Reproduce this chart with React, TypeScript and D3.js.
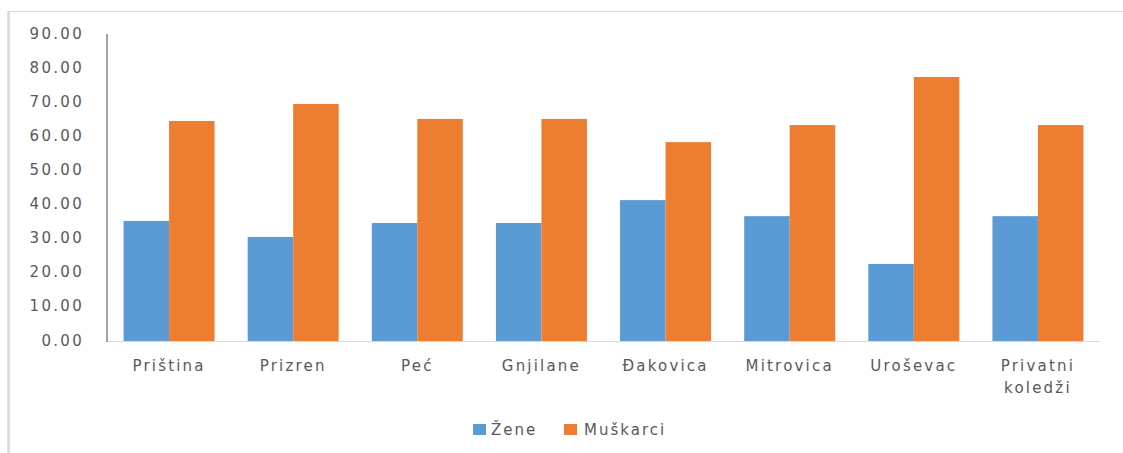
import { useEffect, useRef } from 'react'
import * as d3 from 'd3'

const categories = ['Priština', 'Prizren', 'Peć', 'Gnjilane', 'Đakovica', 'Mitrovica', 'Uroševac', 'Privatni koledži']
const seriesNames = ['Žene', 'Muškarci']
const zene = [35.2, 30.5, 34.6, 34.6, 41.3, 36.6, 22.6, 36.6]
const muskarci = [64.5, 69.5, 65.1, 65.1, 58.3, 63.3, 77.4, 63.3]
const yTicks = [0, 10, 20, 30, 40, 50, 60, 70, 80, 90]
const colors = ['#5B9BD5', '#ED7D31']

export default function App() {
  const svgRef = useRef<SVGSVGElement>(null)

  useEffect(() => {
    if (!svgRef.current) return
    const W = 1123
    const H = 453
    const svg = d3.select(svgRef.current)
    svg.selectAll('*').remove()
    svg.attr('width', W).attr('height', H)

    const font = '"DejaVu Sans", Verdana, sans-serif'
    const textColor = '#595959'

    // chart frame (only top and left edges are visible)
    svg.append('line')
      .attr('x1', 8).attr('x2', W).attr('y1', 11.5).attr('y2', 11.5)
      .attr('stroke', '#d9d9d9').attr('stroke-width', 1)
    svg.append('line')
      .attr('x1', 8.5).attr('x2', 8.5).attr('y1', 11).attr('y2', H)
      .attr('stroke', '#d9d9d9').attr('stroke-width', 2.5)

    const left = 107
    const right = 1100
    const y = d3.scaleLinear().domain([0, 90]).range([341, 34])

    const x0 = d3.scaleBand<string>()
      .domain(categories)
      .range([left, right])
      .padding(0)

    const x1 = d3.scaleBand<string>()
      .domain(seriesNames)
      .range([0, x0.bandwidth()])
      .paddingInner(0)
      .paddingOuter(0.364)

    // y tick labels
    svg.selectAll('.ytick')
      .data(yTicks)
      .join('text')
      .attr('class', 'ytick')
      .attr('x', 84)
      .attr('y', d => y(d))
      .attr('text-anchor', 'end')
      .attr('dominant-baseline', 'middle')
      .attr('fill', textColor)
      .attr('font-family', font)
      .attr('font-size', '15px')
      .attr('letter-spacing', '2.3px')
      .text(d => d.toFixed(2))

    // bars
    const data = categories.map((c, i) => ({ c, vals: [zene[i], muskarci[i]] }))
    const groups = svg.selectAll('.grp')
      .data(data)
      .join('g')
      .attr('class', 'grp')
      .attr('transform', d => `translate(${x0(d.c)},0)`)

    groups.selectAll('rect')
      .data(d => d.vals.map((v, j) => ({ s: seriesNames[j], v, j })))
      .join('rect')
      .attr('x', d => x1(d.s) || 0)
      .attr('y', d => y(d.v))
      .attr('width', x1.bandwidth())
      .attr('height', d => y(0) - y(d.v))
      .attr('fill', d => colors[d.j])

    // axes lines
    svg.append('line')
      .attr('x1', left).attr('x2', right).attr('y1', y(0) + 0.5).attr('y2', y(0) + 0.5)
      .attr('stroke', '#d9d9d9').attr('stroke-width', 1.2)
    svg.append('line')
      .attr('x1', left).attr('x2', left).attr('y1', y(90)).attr('y2', y(0) + 1)
      .attr('stroke', '#868686').attr('stroke-width', 1.5)

    // category labels
    const labels = svg.selectAll('.xlab')
      .data(categories)
      .join('text')
      .attr('class', 'xlab')
      .attr('x', d => (x0(d) || 0) + x0.bandwidth() / 2)
      .attr('y', 371)
      .attr('text-anchor', 'middle')
      .attr('fill', textColor)
      .attr('font-family', font)
      .attr('font-size', '15px')
      .attr('letter-spacing', '2.2px')

    labels.each(function (d) {
      const words = d === 'Privatni koledži' ? ['Privatni', 'koledži'] : [d]
      const t = d3.select(this)
      words.forEach((w, k) => {
        t.append('tspan')
          .attr('x', (x0(d) || 0) + x0.bandwidth() / 2)
          .attr('dy', k === 0 ? 0 : 22)
          .text(w)
      })
    })

    // legend
    const legendItems = [
      { name: seriesNames[0], sx: 473, tx: 491, color: colors[0] },
      { name: seriesNames[1], sx: 564, tx: 584, color: colors[1] },
    ]
    const lg = svg.selectAll('.leg')
      .data(legendItems)
      .join('g')
      .attr('class', 'leg')
    lg.append('rect')
      .attr('x', d => d.sx)
      .attr('y', 424)
      .attr('width', 13)
      .attr('height', 11)
      .attr('fill', d => d.color)
    lg.append('text')
      .attr('x', d => d.tx)
      .attr('y', 435)
      .attr('fill', textColor)
      .attr('font-family', font)
      .attr('font-size', '15px')
      .attr('letter-spacing', '2px')
      .text(d => d.name)
  }, [])

  return (
    <svg ref={svgRef} style={{ position: 'absolute', left: 0, top: 0, background: '#fff' }} />
  )
}
